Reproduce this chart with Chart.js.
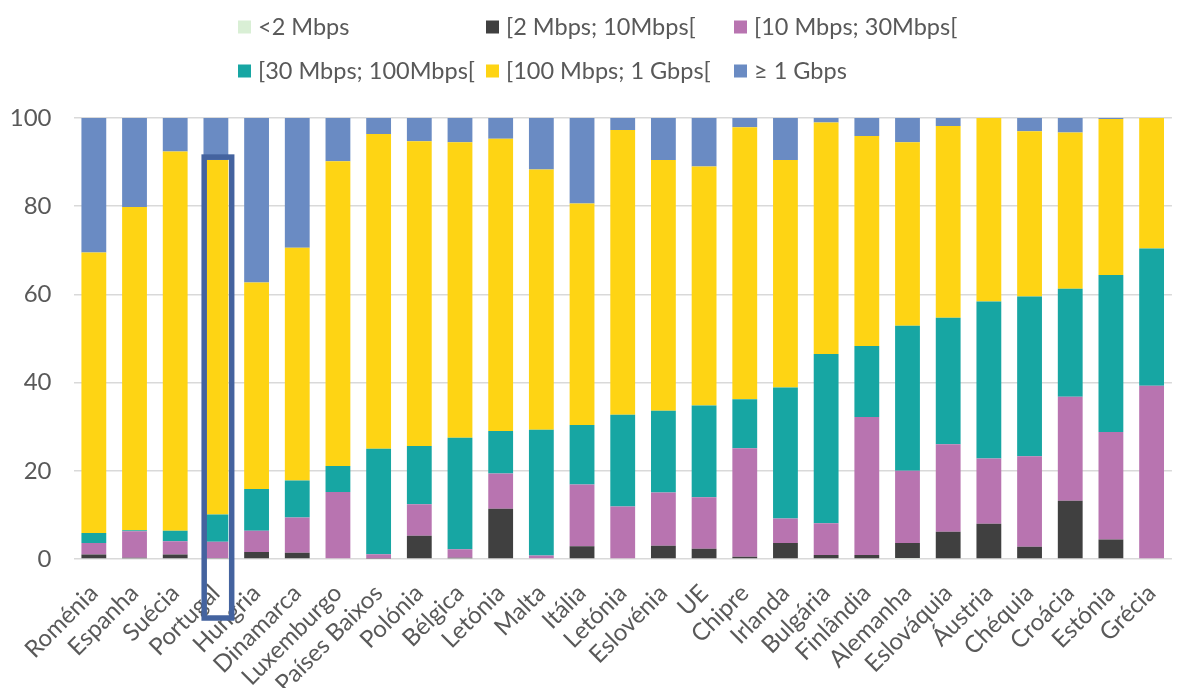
<!DOCTYPE html>
<html>
<head>
<meta charset="utf-8">
<title>Velocidades de acesso</title>
<script src="https://cdn.jsdelivr.net/npm/chart.js@4.4.1/dist/chart.umd.min.js"></script>
<style>
html, body { margin: 0; padding: 0; overflow: hidden; background: #fff; }
canvas { display: block; }
</style>
</head>
<body>
<canvas id="grafico" width="1184" height="688"></canvas>
<script>
// percentagem de acessos por escalão de velocidade
var paises = ["Roménia", "Espanha", "Suécia", "Portugal", "Hungria", "Dinamarca", "Luxemburgo",
  "Países Baixos", "Polónia", "Bélgica", "Letónia", "Malta", "Itália", "Letónia", "Eslovénia",
  "UE", "Chipre", "Irlanda", "Bulgária", "Finlândia", "Alemanha", "Eslováquia", "Áustria",
  "Chéquia", "Croácia", "Estónia", "Grécia"];

var ate2 = [0, 0, 0, 0, 0, 0, 0, 0, 0, 0, 0, 0, 0, 0, 0, 0, 0, 0, 0, 0, 0.2, 0, 0, 0, 0, 0, 0];
var de2a10 = [1.0, 0.3, 1.0, 0.2, 1.6, 1.4, 0, 0.1, 5.3, 0.3, 11.4, 0, 2.9, 0, 3.0, 2.3, 0.5, 3.6, 0.9, 0.9, 3.4, 6.2, 8.0, 2.8, 13.2, 4.4, 0];
var de10a30 = [2.6, 6.0, 3.0, 3.7, 4.8, 8.0, 15.2, 1.0, 7.1, 1.9, 8.0, 0.8, 14.0, 11.9, 12.1, 11.7, 24.6, 5.6, 7.2, 31.3, 16.4, 19.8, 14.8, 20.5, 23.6, 24.4, 39.3];
var de30a100 = [2.3, 0.2, 2.4, 6.2, 9.5, 8.4, 5.9, 23.9, 13.2, 25.3, 9.6, 28.5, 13.5, 20.8, 18.5, 20.8, 11.1, 29.7, 38.4, 16.1, 32.9, 28.7, 35.6, 36.2, 24.5, 35.6, 31.1];
var de100a1g = [63.6, 73.3, 86.0, 80.4, 46.8, 52.8, 69.1, 71.4, 69.1, 67.0, 66.3, 59.0, 50.2, 64.6, 56.9, 54.2, 61.7, 51.6, 52.5, 47.6, 41.6, 43.5, 41.6, 37.5, 35.4, 35.4, 29.6];
var mais1g = [30.5, 20.2, 7.6, 9.5, 37.3, 29.4, 9.8, 3.6, 5.3, 5.5, 4.7, 11.7, 19.4, 2.7, 9.5, 11.0, 2.1, 9.5, 1.0, 4.1, 5.5, 1.8, 0, 3.0, 3.3, 0.2, 0];

var escaloes = ["<2 Mbps", "[2 Mbps; 10Mbps[", "[10 Mbps; 30Mbps[", "[30 Mbps; 100Mbps[", "[100 Mbps; 1 Gbps[", "≥ 1 Gbps"];
var cores = ["#d9efd5", "#404040", "#b874b0", "#17a6a3", "#fed414", "#6a8bc3"];
var yTicks = [0, 20, 40, 60, 80, 100];

var series = [ate2, de2a10, de10a30, de30a100, de100a1g, mais1g];
var textoCor = "#595959";
var fonte = "Lato";

// legenda em grelha de 3 colunas, desenhada à mão
var legenda = {
  id: "legenda",
  afterDraw: function(chart) {
    var ctx = chart.ctx;
    var colX = [238, 486, 734];
    var rowY = [27, 71];
    ctx.save();
    ctx.font = "23.5px " + fonte;
    ctx.textBaseline = "middle";
    for (var i = 0; i < escaloes.length; i++) {
      var x = colX[i % 3], y = rowY[Math.floor(i / 3)];
      ctx.fillStyle = cores[i];
      ctx.fillRect(x, y - 6.5, 13, 13);
      ctx.fillStyle = textoCor;
      ctx.fillText(escaloes[i], x + 20, y);
    }
    ctx.restore();
  }
};

// caixa a destacar Portugal
var destaque = {
  id: "destaque",
  afterDatasetsDraw: function(chart) {
    var i = paises.indexOf("Portugal");
    var bar = chart.getDatasetMeta(4).data[i];
    var y = chart.scales.y;
    var topo = y.getPixelForValue(100 - mais1g[i]) - 2.8;
    var fundo = y.getPixelForValue(0) + 59;
    var ctx = chart.ctx;
    ctx.save();
    ctx.strokeStyle = "#44639f";
    ctx.lineWidth = 5.5;
    ctx.strokeRect(bar.x - 11.7, topo, 27.5, fundo - topo);
    ctx.restore();
  }
};

var dados = {
  labels: paises,
  datasets: series.map(function(s, i) {
    return {
      label: escaloes[i],
      data: s,
      backgroundColor: cores[i],
      borderWidth: 0,
      categoryPercentage: 1,
      barPercentage: 0.61
    };
  })
};

new Chart(document.getElementById("grafico"), {
  type: "bar",
  data: dados,
  options: {
    responsive: false,
    animation: false,
    layout: { padding: { top: 118, right: 2, bottom: 0, left: 0 } },
    plugins: {
      legend: { display: false },
      tooltip: { enabled: false }
    },
    scales: {
      x: {
        stacked: true,
        grid: { display: false },
        border: { display: false },
        ticks: {
          color: textoCor,
          font: { family: fonte, size: 24 },
          maxRotation: 45,
          minRotation: 45,
          autoSkip: false,
          padding: 12
        },
        afterFit: function(s) { s.height = 129; }
      },
      y: {
        stacked: true,
        min: 0,
        max: 100,
        afterBuildTicks: function(s) { s.ticks = yTicks.map(function(v) { return { value: v }; }); },
        grid: { color: "#d9d9d9", lineWidth: 1.5, drawTicks: false },
        border: { display: false },
        ticks: {
          color: textoCor,
          font: { family: fonte, size: 24 },
          padding: 22
        },
        afterFit: function(s) { s.width = 73.5; }
      }
    }
  },
  plugins: [destaque, legenda]
});
</script>
</body>
</html>
